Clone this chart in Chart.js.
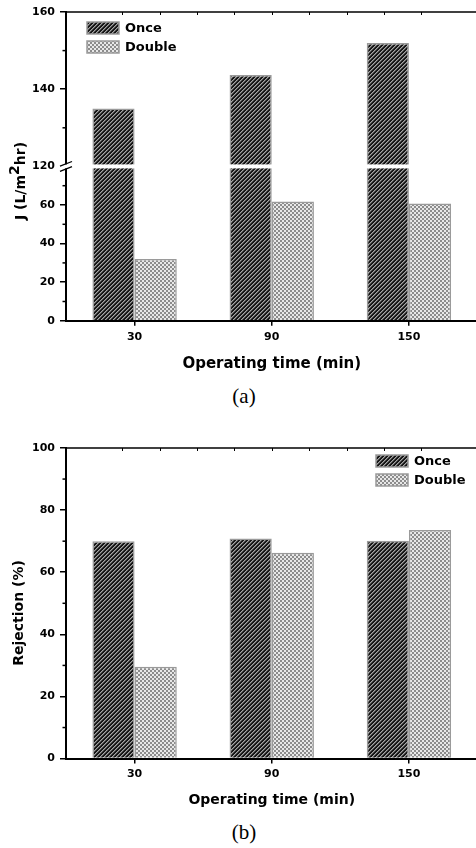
<!DOCTYPE html>
<html><head><meta charset="utf-8">
<script src="https://cdn.jsdelivr.net/npm/chart.js@4.4.1/dist/chart.umd.min.js"></script>
<style>
html,body{margin:0;padding:0;background:#fff;overflow:hidden;width:476px;height:848px;}
.wrap{position:absolute;left:0;width:480px;}
#wa{top:0;height:378px;}
#wb{top:420px;height:392px;}
.cap{position:absolute;left:0;width:488px;text-align:center;font-family:"Liberation Serif","Times New Roman",serif;font-size:21px;color:#000;line-height:24px;}
</style></head><body>
<div class="wrap" id="wa"><canvas id="ca"></canvas></div>
<div class="wrap" id="wb"><canvas id="cb"></canvas></div>
<div class="cap" style="top:384px">(a)</div>
<div class="cap" style="top:820px">(b)</div>
<script>
// ---- data ----
const categories = ['30', '90', '150'];
const seriesNames = ['Once', 'Double'];
const fluxOnce = [135, 143.7, 152];
const fluxDouble = [32, 61.8, 60.8];
const rejOnce = [70, 70.9, 70.1];
const rejDouble = [29.6, 66.3, 73.6];
const fluxUpperRange = [120, 160];
const fluxLowerRange = [0, 80];
const rejRange = [0, 100];
const majorStep = 20;
const minorStep = 10;
const xTitle = 'Operating time (min)';
const yTitleA = ['J (L/m', '2', 'hr)'];
const yTitleB = 'Rejection (%)';

// ---- styles ----
const FONT = '"DejaVu Sans", Verdana, sans-serif';
function makePattern(kind) {
  const c = document.createElement('canvas');
  c.width = 4; c.height = 4;
  const g = c.getContext('2d');
  const img = g.createImageData(4, 4);
  for (let y = 0; y < 4; y++) for (let x = 0; x < 4; x++) {
    let v;
    if (kind === 'hatch') {
      const k = (x + y) % 4;
      v = k === 0 ? 165 : (k === 1 ? 95 : 22);
    } else {
      v = (((x >> 1) + (y >> 1)) % 2) ? 232 : 140;
    }
    const i = (y * 4 + x) * 4;
    img.data[i] = img.data[i + 1] = img.data[i + 2] = v; img.data[i + 3] = 255;
  }
  g.putImageData(img, 0, 0);
  return g.createPattern(c, 'repeat');
}
const patOnce = makePattern('hatch');
const patDouble = makePattern('check');
const BORDER = '#9a9a9a';
const barStyle = (pat) => ({ backgroundColor: pat, borderColor: BORDER, borderWidth: 1.5 });

const tickFont = { family: FONT, size: 11, weight: 'bold' };

const deco = {
  id: 'deco',
  beforeDatasetDraw(chart, args) {
    const ys = args.meta.yScale, a = chart.chartArea, ctx = chart.ctx;
    ctx.save();
    ctx.beginPath();
    ctx.rect(a.left - 5, ys.top, a.right - a.left + 10, ys.bottom - ys.top + 4);
    ctx.clip();
  },
  afterDatasetDraw(chart) { chart.ctx.restore(); },
  afterDraw(chart, args, o) {
    const ctx = chart.ctx, a = chart.chartArea;
    ctx.save();
    ctx.strokeStyle = '#000';
    // top frame line + ticks
    ctx.lineWidth = 1.5;
    ctx.beginPath(); ctx.moveTo(a.left - 1, a.top); ctx.lineTo(chart.width, a.top); ctx.stroke();
    const x2 = chart.scales.x2;
    ctx.lineWidth = 1;
    for (let k = 1; k < 10; k++) {
      const px = Math.round(x2.getPixelForValue(k)) + 0.5;
      ctx.beginPath(); ctx.moveTo(px, a.top); ctx.lineTo(px, a.top + 3); ctx.stroke();
    }
    // minor y ticks
    ctx.lineWidth = 1.5;
    for (const id of o.yIds) {
      const s = chart.scales[id];
      for (let v = s.min + minorStep; v < s.max; v += majorStep) {
        const py = s.getPixelForValue(v);
        ctx.beginPath(); ctx.moveTo(a.left - 3.5, py); ctx.lineTo(a.left, py); ctx.stroke();
      }
    }
    // axis break
    if (o.brk) {
      const b = chart.scales.yTop.bottom;
      ctx.fillStyle = '#fff';
      ctx.fillRect(a.left - 8, b - 2, chart.width, 4);
      ctx.lineWidth = 1.3;
      for (const d of [-2.6, 2.6]) {
        ctx.beginPath();
        ctx.moveTo(a.left - 6, b + d + 2.3);
        ctx.lineTo(a.left + 6, b + d - 2.3);
        ctx.stroke();
      }
    }
    // y title
    ctx.fillStyle = '#000';
    ctx.translate(o.yt.x, o.yt.y);
    ctx.rotate(-Math.PI / 2);
    ctx.textBaseline = 'middle';
    ctx.textAlign = 'left';
    const segs = o.yt.segs;
    let total = 0;
    const w = segs.map(s => { ctx.font = 'bold ' + s.size + 'px ' + FONT; const m = ctx.measureText(s.t).width; total += m; return m; });
    let cx = -total / 2;
    segs.forEach((s, i) => {
      ctx.font = 'bold ' + s.size + 'px ' + FONT;
      ctx.fillText(s.t, cx, s.dy);
      cx += w[i];
    });
    ctx.setTransform(1, 0, 0, 1, 0, 0);
    // legend
    ctx.font = 'bold 13px ' + FONT;
    ctx.textAlign = 'left';
    ctx.textBaseline = 'middle';
    const L = o.legend;
    [patOnce, patDouble].forEach((p, i) => {
      const y = a.top + L.dy + i * L.gap;
      const x = L.x;
      ctx.fillStyle = p;
      ctx.fillRect(x, y, 32, 12);
      ctx.strokeStyle = BORDER; ctx.lineWidth = 1.5;
      ctx.strokeRect(x, y, 32, 12);
      ctx.fillStyle = '#000';
      ctx.fillText(seriesNames[i], x + 38, y + 6.5);
    });
    ctx.restore();
  }
};

function xScale(stacked, labPad, titleSize, titlePad) {
  return {
    type: 'category', stacked: stacked, offset: true,
    grid: { offset: false, drawOnChartArea: false, tickLength: 5, color: '#000', lineWidth: 1.5 },
    border: { color: '#000', width: 2 },
    ticks: { font: tickFont, color: '#000', padding: labPad },
    title: { display: true, text: xTitle, color: '#000', font: { family: FONT, size: titleSize, weight: 'bold' }, padding: { top: titlePad, bottom: 0 } }
  };
}
function yScale(range, extra) {
  return Object.assign({
    type: 'linear', position: 'left', min: range[0], max: range[1], stacked: false,
    grid: { drawOnChartArea: false, tickLength: 6, color: '#000', lineWidth: 1.5 },
    border: { color: '#000', width: 2 },
    ticks: { stepSize: majorStep, font: tickFont, color: '#000', padding: 5 },
    afterFit: (s) => { s.width = 66; }
  }, extra);
}
const x2Scale = { type: 'linear', position: 'top', display: false, min: 0, max: 10 };

// ---- chart (a) ----
new Chart(document.getElementById('ca'), {
  type: 'bar',
  data: {
    labels: categories,
    datasets: [
      Object.assign({ label: seriesNames[0], data: fluxOnce, yAxisID: 'yTop', stack: 'once' }, barStyle(patOnce)),
      Object.assign({ label: seriesNames[0], data: fluxOnce, yAxisID: 'yBot', stack: 'once' }, barStyle(patOnce)),
      Object.assign({ label: seriesNames[1], data: fluxDouble, yAxisID: 'yBot', stack: 'double' }, barStyle(patDouble))
    ]
  },
  options: {
    responsive: true, maintainAspectRatio: false, animation: false,
    categoryPercentage: 0.615, barPercentage: 1,
    layout: { padding: { top: 12, left: 0, right: 2.5, bottom: 5 } },
    plugins: {
      legend: { display: false }, tooltip: { enabled: false },
      deco: {
        yIds: ['yTop', 'yBot'], brk: true,
        yt: { x: 21, y: 181, segs: [{ t: yTitleA[0], size: 14, dy: 0 }, { t: yTitleA[1], size: 14, dy: -6 }, { t: yTitleA[2], size: 14, dy: 0 }] },
        legend: { x: 87, dy: 10, gap: 19 }
      }
    },
    scales: {
      x: xScale(true, 5, 15, 6),
      x2: x2Scale,
      yBot: yScale(fluxLowerRange, { stack: 'j', stackWeight: 1, weight: 1, ticks: { stepSize: majorStep, font: tickFont, color: '#000', padding: 5, callback: (v) => v === fluxLowerRange[1] ? '' : v } }),
      yTop: yScale(fluxUpperRange, { stack: 'j', stackWeight: 1, weight: 2 })
    }
  },
  plugins: [deco]
});

// ---- chart (b) ----
new Chart(document.getElementById('cb'), {
  type: 'bar',
  data: {
    labels: categories,
    datasets: [
      Object.assign({ label: seriesNames[0], data: rejOnce }, barStyle(patOnce)),
      Object.assign({ label: seriesNames[1], data: rejDouble }, barStyle(patDouble))
    ]
  },
  options: {
    responsive: true, maintainAspectRatio: false, animation: false,
    categoryPercentage: 0.615, barPercentage: 1,
    layout: { padding: { top: 28, left: 0, right: 2.5, bottom: 3.6 } },
    plugins: {
      legend: { display: false }, tooltip: { enabled: false },
      deco: {
        yIds: ['y'], brk: false,
        yt: { x: 19, y: 193, segs: [{ t: yTitleB, size: 14, dy: 0 }] },
        legend: { x: 376, dy: 7, gap: 19 }
      }
    },
    scales: {
      x: xScale(false, 4.4, 14, 6),
      x2: x2Scale,
      y: yScale(rejRange, {})
    }
  },
  plugins: [deco]
});
</script>
</body></html>
